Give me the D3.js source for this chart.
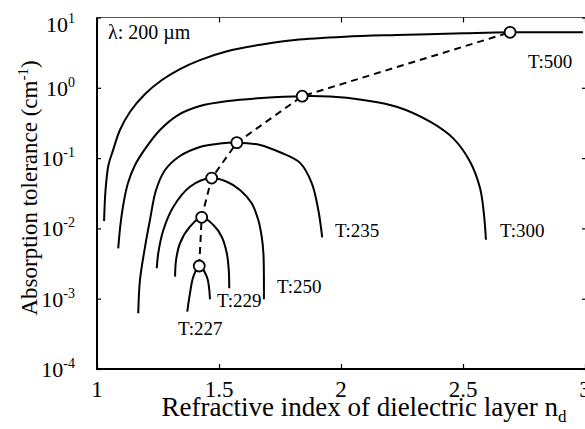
<!DOCTYPE html>
<html>
<head>
<meta charset="utf-8">
<script src="https://cdn.jsdelivr.net/npm/d3@7"></script>
<style>
body { margin: 0; background: #fff; }
text { font-family: "Liberation Serif", "DejaVu Serif", serif; fill: #000; }
</style>
</head>
<body>
<svg id="chart" width="585" height="429"></svg>
<script>
// curves: [refractive index n_d, absorption tolerance cm^-1]
var t500 = [[1.029,0.0127],[1.035,0.0352],[1.047,0.0797],[1.066,0.130],[1.094,0.251],[1.135,0.453],
            [1.197,0.816],[1.266,1.29],[1.340,1.85],[1.422,2.48],[1.537,3.34],[1.676,4.13],[1.811,4.79],
            [2.016,5.33],[2.228,5.64],[2.501,5.96],[2.693,6.16],[2.992,6.16]]
var t300 = [[1.087,0.00521],[1.096,0.0112],[1.109,0.0230],[1.127,0.0442],[1.156,0.0797],[1.197,0.135],
            [1.258,0.251],[1.332,0.410],[1.422,0.551],[1.537,0.649],[1.676,0.716],[1.841,0.76],[1.955,0.75],
            [2.091,0.670],[2.228,0.538],[2.365,0.330],[2.460,0.191],[2.529,0.0889],[2.570,0.0372],
            [2.586,0.0157],[2.594,0.0069]]
var t235 = [[1.169,0.00062],[1.176,0.00183],[1.197,0.0055],[1.217,0.01315],[1.242,0.0352],[1.279,0.0677],
            [1.340,0.107],[1.422,0.144],[1.504,0.161],[1.573,0.166],[1.668,0.154],[1.750,0.121],
            [1.832,0.0855],[1.880,0.0442],[1.907,0.0183],[1.923,0.00747]]
var t250 = [[1.245,0.00271],[1.251,0.00443],[1.272,0.00949],[1.313,0.0203],[1.381,0.0392],[1.470,0.052],
            [1.532,0.0461],[1.586,0.0352],[1.634,0.0228],[1.661,0.01316],[1.675,0.00762],[1.682,0.00443],
            [1.684,0.00212],[1.684,0.000984]]
var t229 = [[1.320,0.00206],[1.324,0.00355],[1.340,0.00614],[1.381,0.01057],[1.429,0.01439],
            [1.477,0.01117],[1.511,0.00762],[1.532,0.00443],[1.540,0.00256],[1.542,0.00141]]
var t227 = [[1.370,0.000653],[1.381,0.00119],[1.395,0.00206],[1.419,0.00292],[1.450,0.00206],[1.463,0.00098]]

// optimum points (peaks), joined by the dashed line
var peakN = [1.419, 1.429, 1.470, 1.573, 1.841, 2.693]
var peakA = [0.00292, 0.01439, 0.052, 0.166, 0.76, 6.16]

var curveLabels = ['T:500', 'T:300', 'T:235', 'T:250', 'T:229', 'T:227']
var labelN = [2.766, 2.652, 1.975, 1.738, 1.492, 1.332]
var labelA = [1.91, 0.00755, 0.00755, 0.00121, 0.000762, 0.000305]

var xTicks = [1, 1.5, 2, 2.5, 3]
var yTicks = [1e-4, 1e-3, 1e-2, 1e-1, 1, 10]
var yExp = ['-4', '-3', '-2', '-1', '0', '1']

var svg = d3.select('#chart')
var pLeft = 97, pRight = 585, pTop = 17.5, pBottom = 369

var x = d3.scaleLinear().domain([1, 3]).range([pLeft, pRight])
var y = d3.scaleLog().domain([1e-4, 10]).range([pBottom, pTop])

// frame
svg.append('rect')
  .attr('x', pLeft).attr('y', pTop)
  .attr('width', pRight + 1 - pLeft).attr('height', pBottom - pTop)
  .style('fill', 'none').style('stroke', '#555').style('stroke-width', 1)

// axes, ticks pointing inward
svg.append('g').attr('transform', 'translate(0,' + pBottom + ')')
  .call(d3.axisBottom(x).tickValues(xTicks).tickSize(-5).tickFormat(''))
svg.append('g').attr('transform', 'translate(0,' + pTop + ')')
  .call(d3.axisTop(x).tickValues(xTicks).tickSize(-5).tickFormat(''))
svg.append('g').attr('transform', 'translate(' + pLeft + ',0)')
  .call(d3.axisLeft(y).tickValues(yTicks).tickSize(-4).tickFormat(''))
svg.append('g').attr('transform', 'translate(' + (pRight + 1) + ',0)')
  .call(d3.axisRight(y).tickValues(yTicks).tickSize(-4).tickFormat(''))
svg.selectAll('.domain').remove()
svg.selectAll('.tick line').style('stroke', '#000').style('stroke-width', 1.2)

// heavy left and bottom axis lines
svg.append('line').attr('x1', pLeft).attr('x2', pLeft).attr('y1', pTop).attr('y2', pBottom + 1)
  .style('stroke', '#000').style('stroke-width', 2)
svg.append('line').attr('x1', pLeft - 1).attr('x2', pRight + 1).attr('y1', pBottom).attr('y2', pBottom)
  .style('stroke', '#000').style('stroke-width', 2)

// tick labels
svg.selectAll('.xlab').data(xTicks).enter().append('text')
  .attr('class', 'xlab')
  .attr('x', function(d){ return x(d) })
  .attr('y', 397)
  .attr('text-anchor', 'middle')
  .style('font-size', '23px')
  .text(function(d){ return d })

var ylab = svg.selectAll('.ylab').data(yTicks).enter().append('text')
  .attr('class', 'ylab')
  .attr('x', 75)
  .attr('y', function(d, i){ return y(d) + 8 + (i == 5 ? 6 : 0) })
  .attr('text-anchor', 'end')
  .style('font-size', '22px')
ylab.append('tspan').text('10')
ylab.append('tspan').attr('dy', -9).style('font-size', '14px')
  .text(function(d, i){ return yExp[i] })

// axis titles
var ytitle = svg.append('text')
  .attr('transform', 'translate(37,188) rotate(-90)')
  .attr('text-anchor', 'middle')
  .style('font-size', '23px')
ytitle.append('tspan').text('Absorption tolerance (cm')
ytitle.append('tspan').attr('dy', -9).style('font-size', '15px').text('-1')
ytitle.append('tspan').attr('dy', 9).text(')')

var xtitle = svg.append('text')
  .attr('x', 364).attr('y', 416)
  .attr('text-anchor', 'middle')
  .style('font-size', '27px')
xtitle.append('tspan').text('Refractive index of dielectric layer n')
xtitle.append('tspan').attr('dy', 6).style('font-size', '17px').text('d')

// curves
var line = d3.line()
  .x(function(d){ return x(d[0]) })
  .y(function(d){ return y(d[1]) })
  .curve(d3.curveCatmullRom.alpha(0.5))

svg.selectAll('.curve').data([t500, t300, t235, t250, t229, t227]).enter()
  .append('path')
  .attr('class', 'curve')
  .attr('d', line)
  .style('fill', 'none').style('stroke', '#000').style('stroke-width', 2)

// dashed line through the peaks
var peaks = peakN.map(function(n, i){ return [n, peakA[i]] })
svg.append('path')
  .attr('d', d3.line().x(function(d){ return x(d[0]) }).y(function(d){ return y(d[1]) })(peaks))
  .style('fill', 'none').style('stroke', '#000').style('stroke-width', 2)
  .style('stroke-dasharray', '7 5')

svg.selectAll('.peak').data(peaks).enter()
  .append('circle')
  .attr('class', 'peak')
  .attr('cx', function(d){ return x(d[0]) })
  .attr('cy', function(d){ return y(d[1]) })
  .attr('r', 5.5)
  .style('fill', '#fff').style('stroke', '#000').style('stroke-width', 1.8)

// curve labels
svg.selectAll('.tlab').data(curveLabels).enter().append('text')
  .attr('class', 'tlab')
  .attr('x', function(d, i){ return x(labelN[i]) })
  .attr('y', function(d, i){ return y(labelA[i]) })
  .style('font-size', '19px')
  .text(function(d){ return d })

svg.append('text')
  .attr('x', 108).attr('y', 39)
  .style('font-size', '20px')
  .text('λ: 200 µm')
</script>
</body>
</html>
